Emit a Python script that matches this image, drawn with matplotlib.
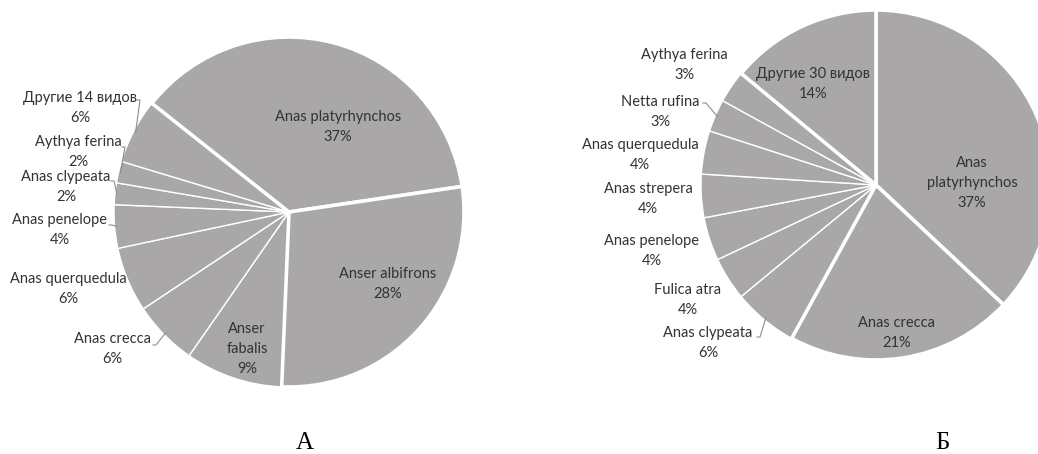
import matplotlib
matplotlib.use("Agg")
import matplotlib.pyplot as plt
import numpy as np

# ---------------- data ----------------
labels_a = ["Anas platyrhynchos", "Anser albifrons", "Anser\nfabalis", "Anas crecca",
            "Anas querquedula", "Anas penelope", "Anas clypeata", "Aythya ferina",
            "Другие 14 видов"]
values_a = [37, 28, 9, 6, 6, 4, 2, 2, 6]

labels_b = ["Anas\nplatyrhynchos", "Anas crecca", "Anas clypeata", "Fulica atra",
            "Anas penelope", "Anas strepera", "Anas querquedula", "Netta rufina",
            "Aythya ferina", "Другие 30 видов"]
values_b = [37, 21, 6, 4, 4, 4, 4, 3, 3, 14]

panel_titles = ["А", "Б"]

# ---------------- layout (pixels, y from top) ----------------
W, H = 1038, 454
FACE = "#A9A7A7"
TEXT = "#333333"
LEAD = "#8C8C8C"

def Y(y):
    return H - y

center_a, start_a = (289, 212), 141.6
center_b, start_b = (876, 185), 90.0
radius = 175

thick_a = [0, 1]
thick_b = [0, 1, 9]

label_pos_a = [(338, 127), (388, 284), (247, 349), (112, 349), (68, 289),
               (60, 230), (66, 187), (78, 152), (80, 108)]
leader_a = {3: (153, 345), 5: (109, 225), 6: (111, 181), 7: (122, 147), 8: (137, 100)}

label_pos_b = [(972, 183), (897, 333), (708, 343), (688, 300), (652, 251),
               (648, 199), (640, 155), (660, 112), (684, 65), (813, 84)]
leader_b = {2: (757, 337), 7: (703, 103)}

title_pos = [(305, 443), (942, 443)]

plt.rcParams['font.family'] = ['Lato', 'DejaVu Sans']

fig = plt.figure(figsize=(W / 100, H / 100), dpi=100)
ax = fig.add_axes([0, 0, 1, 1])


def draw_pie(values, labels, center, start, thick, label_pos, leaders):
    wedges, _ = ax.pie(values, center=(center[0], Y(center[1])), radius=radius,
                       startangle=start, counterclock=False, frame=True,
                       colors=[FACE] * len(values),
                       wedgeprops=dict(edgecolor="white", linewidth=1.0))
    for i, w in enumerate(wedges):
        if i in thick:
            w.set_linewidth(2.6)
            w.set_zorder(3)
        else:
            w.set_zorder(2)
    for i, (lab, v) in enumerate(zip(labels, values)):
        x, y = label_pos[i]
        ax.text(x, Y(y), f"{lab}\n{v}%", ha="center", va="center",
                fontsize=10.5, color=TEXT, linespacing=1.55, zorder=5)
    for i, (sx, sy) in leaders.items():
        w = wedges[i]
        mid = np.deg2rad((w.theta1 + w.theta2) / 2)
        cx, cy = w.center
        ex = cx + (w.r - 2) * np.cos(mid)
        ey = cy + (w.r - 2) * np.sin(mid)
        ax.plot([sx, sx + 3, ex], [Y(sy), Y(sy), ey], color=LEAD, lw=0.8, zorder=4)
    return wedges


draw_pie(values_a, labels_a, center_a, start_a, thick_a, label_pos_a, leader_a)
draw_pie(values_b, labels_b, center_b, start_b, thick_b, label_pos_b, leader_b)

for t, (x, y) in zip(panel_titles, title_pos):
    ax.text(x, Y(y), t, ha="center", va="center", fontsize=18,
            family="Liberation Serif", color="black")

ax.set_xlim(0, W)
ax.set_ylim(0, H)
ax.set_aspect("auto")
ax.axis("off")

fig.savefig("out.png", dpi=100, facecolor="white")
